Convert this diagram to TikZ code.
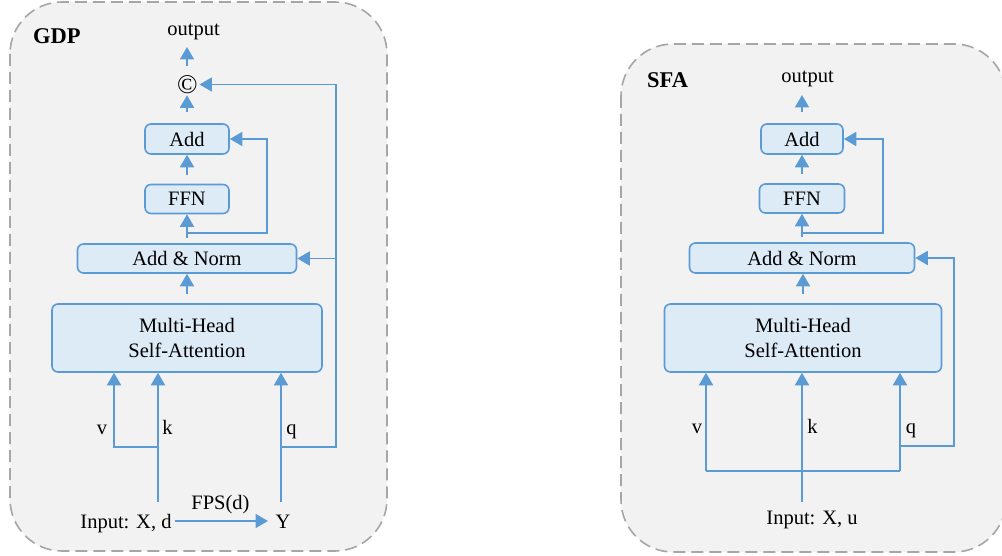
\documentclass[tikz,border=0pt]{standalone}
\usepackage{fontspec}
\setmainfont{Liberation Serif}
\usetikzlibrary{arrows.meta}
\definecolor{bl}{HTML}{5B9BD5}
\definecolor{bfill}{HTML}{DDEBF7}
\definecolor{pfill}{HTML}{F2F2F2}
\definecolor{pborder}{HTML}{A6A6A6}
\tikzset{
  panel/.style={draw=pborder, fill=pfill, line width=1.6pt, dash pattern=on 12pt off 6pt, rounded corners=52pt},
  blk/.style={draw=bl, fill=bfill, line width=1.6pt, rounded corners=6pt, inner sep=0pt, align=center, font=\fontsize{20.5}{25}\selectfont},
  lbl/.style={inner sep=0pt, anchor=base, font=\fontsize{20.5}{25}\selectfont},
  ttl/.style={inner sep=0pt, anchor=base west, font=\fontsize{22.5}{25}\selectfont\bfseries},
  arr/.style={draw=bl, line width=1.8pt, -{Triangle[width=14pt,length=12.5pt]}},
  ln/.style={draw=bl, line width=1.8pt},
}
\begin{document}
\begin{tikzpicture}[x=1pt,y=-1pt]
\useasboundingbox (0,0) rectangle (1002,556);
\clip (0,0) rectangle (1002,556);
% panels
\path[panel] (10,2) rectangle (387,551);
\path[panel] (621,44) rectangle (1006,552);

% ---------- GDP ----------
\node[ttl] (gdp) at (33,44) {GDP};
\node[lbl] (out1) at (193.5,36) {output};
\coordinate (o1) at (187,47);
\node[inner sep=1.5pt, font=\fontsize{27}{30}\selectfont] (cop1) at (187.5,84.5) {©};
\node[blk, minimum width=84pt, minimum height=30pt] (add1) at (187,139) {Add};
\node[blk, minimum width=84pt, minimum height=29pt] (ffn1) at (187,199) {FFN};
\node[blk, minimum width=219pt, minimum height=29pt] (an1) at (187,258.5) {Add \& Norm};
\node[blk, minimum width=270pt, minimum height=68pt] (mh1) at (187,338) {Multi-Head\\Self-Attention};
\node[lbl] (v1) at (102,434) {v};
\node[lbl] (k1) at (167.5,434) {k};
\node[lbl] (q1) at (291.5,434) {q};
\node[lbl] (in1) at (126,528) {Input: X, d};
\node[lbl] (fps) at (220.5,509) {FPS(d)};
\node[lbl] (y1) at (283,528) {Y};

\draw[arr, shorten <=8pt] (cop1.north -| o1) -- (o1);
\draw[arr, shorten <=11pt] (add1.north) -- (add1.north |- cop1.south);
\draw[arr, shorten <=9pt] (ffn1.north) -- (add1.south);
\draw[arr, shorten <=5pt] (an1.north) -- (ffn1.south);
\coordinate (b1) at (187,233);
\coordinate (s1) at (267,233);
\draw[arr] (b1) -- (s1) |- (add1.east);
\draw[arr, shorten <=9pt] (mh1.north) -- (an1.south);
\coordinate (kb1) at (158,502);
\coordinate (vb1) at (114,447);
\draw[arr] (kb1) -- (kb1 |- mh1.south);
\draw[arr] (kb1 |- vb1) -- (vb1) -- (vb1 |- mh1.south);
\coordinate (qb1) at (281,502);
\coordinate (r1) at (336,447);
\draw[arr] (qb1) -- (qb1 |- mh1.south);
\draw[arr] (qb1 |- r1) -- (r1) |- (cop1.east);
\draw[arr] (r1 |- an1.east) -- (an1.east);
\coordinate (fa) at (175,521);
\coordinate (fb) at (268,521);
\draw[arr] (fa) -- (fb);

% ---------- SFA ----------
\node[ttl] (sfa) at (647,88) {SFA};
\node[lbl] (out2) at (807.5,83) {output};
\coordinate (o2) at (802,95);
\node[blk, minimum width=82pt, minimum height=30pt] (add2) at (802,139) {Add};
\node[blk, minimum width=85pt, minimum height=29pt] (ffn2) at (802,198.5) {FFN};
\node[blk, minimum width=225pt, minimum height=30pt] (an2) at (802,258) {Add \& Norm};
\node[blk, minimum width=277pt, minimum height=68pt] (mh2) at (803,338) {Multi-Head\\Self-Attention};
\node[lbl] (v2) at (697,433) {v};
\node[lbl] (k2) at (812.5,433) {k};
\node[lbl] (q2) at (911,433) {q};
\node[lbl] (in2) at (812,524) {Input: X, u};

\draw[arr, shorten <=11pt] (add2.north) -- (o2);
\draw[arr, shorten <=9pt] (ffn2.north) -- (add2.south);
\draw[arr, shorten <=5pt] (an2.north) -- (ffn2.south);
\coordinate (b2) at (802,233);
\coordinate (s2) at (883,233);
\draw[arr] (b2) -- (s2) |- (add2.east);
\draw[arr, shorten <=9pt] (mh2.north) -- (mh2.north |- an2.south);
\coordinate (kb2) at (802,502);
\coordinate (vb2) at (706,471);
\coordinate (qb2) at (900,471);
\draw[arr] (kb2) -- (kb2 |- mh2.south);
\draw[ln] (vb2) -- (qb2);
\draw[arr] (vb2) -- (vb2 |- mh2.south);
\draw[arr] (qb2) -- (qb2 |- mh2.south);
\coordinate (r2) at (954,446);
\draw[arr] (qb2 |- r2) -- (r2) |- (an2.east);
\end{tikzpicture}
\end{document}
